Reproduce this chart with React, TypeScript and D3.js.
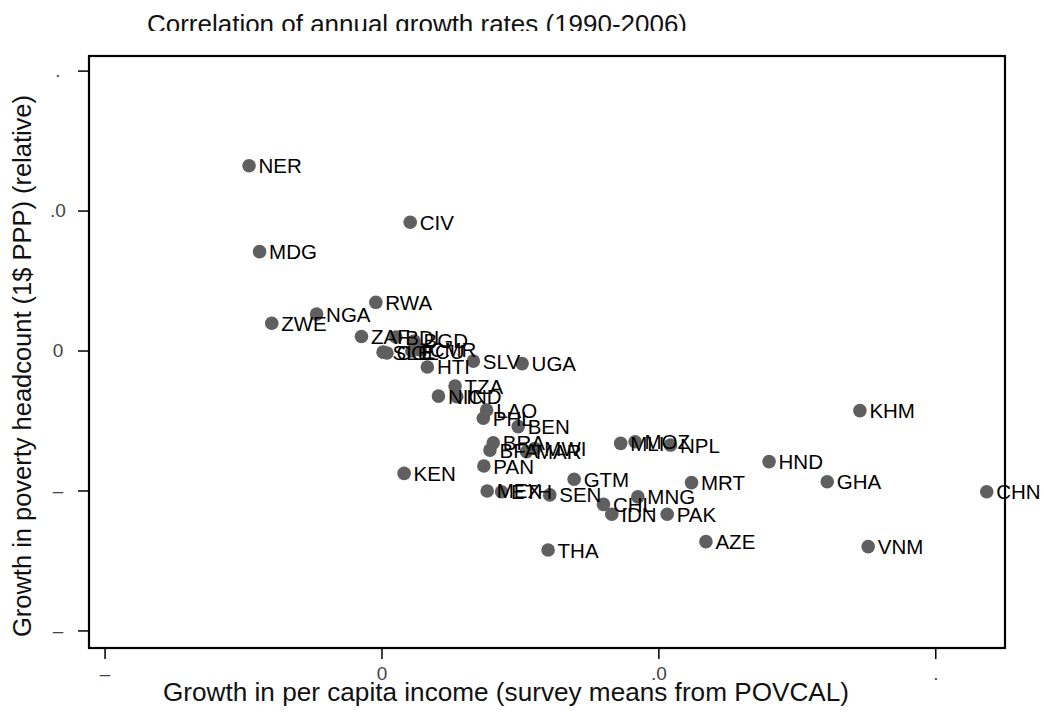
import React from "react";
import * as d3 from "d3";

const countries = [
  "NER", "CIV", "MDG", "RWA", "NGA", "ZWE", "ZAF", "BDI", "BGD", "SLE",
  "COL", "ECU", "CMR", "HTI", "SLV", "UGA", "TZA", "NIC", "IND", "LAO",
  "PHL", "BEN", "BRA", "BFA", "MAR", "MWI", "PAN", "KEN", "MEX", "ETH",
  "SEN", "GTM", "CHL", "IDN", "MNG", "MLI", "MOZ", "NPL", "PAK", "MRT",
  "AZE", "HND", "GHA", "KHM", "VNM", "CHN", "THA",
];
const incomeGrowth = [
  -0.024, 0.0051, -0.0221, -0.0011, -0.0118, -0.0199, -0.0037, 0.0025, 0.0058, 0.0002,
  0.0009, 0.0054, 0.0069, 0.0082, 0.0165, 0.0253, 0.0132, 0.0102, 0.0135, 0.0189,
  0.0183, 0.0246, 0.0201, 0.0195, 0.0261, 0.0276, 0.0184, 0.004, 0.019, 0.0216,
  0.0303, 0.0347, 0.04, 0.0415, 0.0462, 0.0431, 0.0457, 0.0521, 0.0515, 0.0559,
  0.0585, 0.0699, 0.0804, 0.0863, 0.0878, 0.1092, 0.03,
];
const povertyGrowth = [
  0.0662, 0.046, 0.0355, 0.0174, 0.0132, 0.0099, 0.0052, 0.005, 0.0036, -0.0004,
  -0.0007, 0.0, 0.0004, -0.0057, -0.0036, -0.0045, -0.0125, -0.0161, -0.0163, -0.0211,
  -0.024, -0.027, -0.0328, -0.0354, -0.036, -0.0348, -0.0411, -0.0437, -0.05, -0.0503,
  -0.0514, -0.0458, -0.0548, -0.0583, -0.0521, -0.033, -0.0324, -0.0336, -0.0583, -0.047,
  -0.0681, -0.0395, -0.0467, -0.0213, -0.0699, -0.0503, -0.0711,
];
const xTickValues = [-0.05, 0, 0.05, 0.1];
const xTickLabels = ["–", "0", ".0", "."];
const yTickValues = [0.1, 0.05, 0, -0.05, -0.1];
const yTickLabels = [".", ".0", "0", "–", "–"];

const chartTitle = "Correlation of annual growth rates (1990-2006)";
const xTitle = "Growth in per capita income (survey means from POVCAL)";
const yTitle = "Growth in poverty headcount (1$ PPP) (relative)";

const FONT = "'Liberation Sans', Arial, Helvetica, sans-serif";
const NARROW = "'Liberation Sans Narrow', 'Liberation Sans', Arial, sans-serif";

export default function App() {
  const W = 1044;
  const H = 716;
  const left = 89, right = 1005, top = 56, bottom = 648;
  const x = d3.scaleLinear().domain([-0.0529, 0.1125]).range([left, right]);
  const y = d3.scaleLinear().domain([-0.1061, 0.1054]).range([bottom, top]);

  const pts = countries.map((c, i) => ({ c, x: incomeGrowth[i], y: povertyGrowth[i] }));

  return (
    <svg
      width={W}
      height={H}
      style={{ position: "absolute", left: 0, top: 0, background: "#fff" }}
      xmlns="http://www.w3.org/2000/svg"
    >
      <defs>
        <clipPath id="titleClip">
          <rect x={0} y={0} width={W} height={31} />
        </clipPath>
      </defs>
      <rect x={0} y={0} width={W} height={H} fill="#fff" />
      <g clipPath="url(#titleClip)">
        <text x={147} y={33} fontFamily={FONT} fontSize={25.5} fill="#111"
          textLength={540} lengthAdjust="spacingAndGlyphs">
          {chartTitle}
        </text>
      </g>

      {/* points */}
      <g>
        {pts.map((p) => (
          <circle key={"d" + p.c} cx={x(p.x)} cy={y(p.y)} r={6.8} fill="#5f5f5f" />
        ))}
      </g>
      <g fontFamily={FONT} fontSize={20.5} fill="#000">
        {pts.map((p) => (
          <text key={"t" + p.c} x={x(p.x) + 9.5} y={y(p.y) + 7.5}>
            {p.c}
          </text>
        ))}
      </g>

      {/* y axis ticks */}
      <g>
        {yTickValues.map((v, i) => (
          <g key={"yt" + i}>
            <line x1={left - 11} x2={left} y1={y(v)} y2={y(v)} stroke="#000" strokeWidth={1.5} />
            <text x={58} y={y(v) + 6} textAnchor="middle" fontFamily={NARROW} fontSize={19} fill="#444">
              {yTickLabels[i]}
            </text>
          </g>
        ))}
      </g>
      {/* x axis ticks */}
      <g>
        {xTickValues.map((v, i) => (
          <g key={"xt" + i}>
            <line x1={x(v)} x2={x(v)} y1={bottom} y2={bottom + 11} stroke="#000" strokeWidth={1.5} />
            <text x={x(v)} y={680} textAnchor="middle" fontFamily={NARROW} fontSize={19} fill="#444">
              {xTickLabels[i]}
            </text>
          </g>
        ))}
      </g>

      {/* frame */}
      <rect x={left} y={top} width={right - left} height={bottom - top} fill="none" stroke="#000" strokeWidth={2.2} />

      {/* axis titles */}
      <text x={163} y={701} fontFamily={FONT} fontSize={25.5} fill="#111"
        textLength={686} lengthAdjust="spacingAndGlyphs">
        {xTitle}
      </text>
      <text transform="translate(31,637) rotate(-90)" x={0} y={0} fontFamily={FONT} fontSize={25.5} fill="#111"
        textLength={542} lengthAdjust="spacingAndGlyphs">
        {yTitle}
      </text>
    </svg>
  );
}
